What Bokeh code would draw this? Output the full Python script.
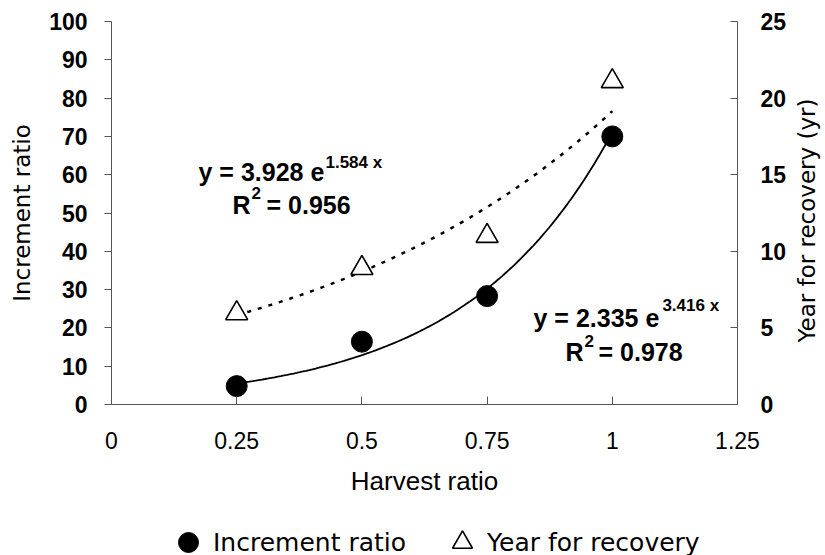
import math
import numpy as np
from bokeh.plotting import figure
from bokeh.layouts import column
from bokeh.models import Range1d, LinearAxis, FixedTicker, Label, Legend, LegendItem
from bokeh.embed import file_html
from bokeh.resources import INLINE

# ---- data ----
harvest_ratio = [0.25, 0.5, 0.75, 1.0]
increment_ratio = [4.8, 16.4, 28.3, 70.0]
year_for_recovery = [5.95, 8.9, 11.0, 21.1]

inc_fit_a, inc_fit_b = 2.335, 3.416   # y = 2.335 e^(3.416 x), R2 = 0.978
yr_fit_a, yr_fit_b = 3.928, 1.584     # y = 3.928 e^(1.584 x), R2 = 0.956

x_ticks = [0, 0.25, 0.5, 0.75, 1, 1.25]
x_tick_labels = ["0", "0.25", "0.5", "0.75", "1", "1.25"]
left_ticks = [0, 10, 20, 30, 40, 50, 60, 70, 80, 90, 100]
right_ticks = [0, 5, 10, 15, 20, 25]

fit_x = np.linspace(min(harvest_ratio), max(harvest_ratio), 120)
inc_fit = inc_fit_a * np.exp(inc_fit_b * fit_x)
yr_fit = yr_fit_a * np.exp(yr_fit_b * fit_x)

AXIS_COLOR = "#555555"
TICK_FONT = "Liberation Sans"
TITLE_FONT = "DejaVu Sans"

W = 825
H_MAIN = 505
H_LEG = 50

p = figure(width=W, height=H_MAIN, output_backend="svg", toolbar_location=None,
           x_range=Range1d(0, 1.25), y_range=Range1d(0, 100),
           min_border_left=111, min_border_right=88,
           min_border_top=21, min_border_bottom=101)
p.xgrid.visible = False
p.ygrid.visible = False
p.outline_line_color = None
p.background_fill_color = "white"
p.border_fill_color = "white"
p.extra_y_ranges = {"yr": Range1d(0, 25)}

# left axis
ya = p.yaxis[0]
ya.ticker = FixedTicker(ticks=left_ticks)
ya.axis_line_color = AXIS_COLOR
ya.major_tick_line_color = AXIS_COLOR
ya.major_tick_out = 7
ya.major_tick_in = 0
ya.minor_tick_out = 0
ya.minor_tick_in = 0
ya.major_label_text_font = TICK_FONT
ya.major_label_text_font_style = "bold"
ya.major_label_text_font_size = "23px"
ya.major_label_text_color = "black"
ya.major_label_standoff = 17
ya.axis_label = "Increment ratio"
ya.axis_label_text_font = TITLE_FONT
ya.axis_label_text_font_style = "normal"
ya.axis_label_text_font_size = "23px"
ya.axis_label_text_color = "black"
ya.axis_label_standoff = 11

# bottom axis
xa = p.xaxis[0]
xa.ticker = FixedTicker(ticks=x_ticks)
xa.major_label_overrides = dict(zip(x_ticks, x_tick_labels))
xa.axis_line_color = AXIS_COLOR
xa.major_tick_line_color = AXIS_COLOR
xa.major_tick_in = 8
xa.major_tick_out = 0
xa.minor_tick_out = 0
xa.minor_tick_in = 0
xa.major_label_text_font = TICK_FONT
xa.major_label_text_font_size = "23px"
xa.major_label_text_color = "black"
xa.major_label_standoff = 27
xa.axis_label = "Harvest ratio"
xa.axis_label_text_font = TICK_FONT
xa.axis_label_text_font_style = "normal"
xa.axis_label_text_font_size = "26px"
xa.axis_label_text_color = "black"
xa.axis_label_standoff = 14

# right axis
ra = LinearAxis(y_range_name="yr", ticker=FixedTicker(ticks=right_ticks))
ra.axis_line_color = AXIS_COLOR
ra.major_tick_line_color = AXIS_COLOR
ra.major_tick_in = 7
ra.major_tick_out = 0
ra.minor_tick_out = 0
ra.minor_tick_in = 0
ra.major_label_text_font = TICK_FONT
ra.major_label_text_font_style = "bold"
ra.major_label_text_font_size = "23px"
ra.major_label_text_color = "black"
ra.major_label_standoff = 23
p.add_layout(ra, "right")

# right-axis title, read bottom-to-top, placed in the right side panel
right_title = Label(x=17, y=184, x_units="screen", y_units="screen",
                    text="Year for recovery (yr)", angle=math.pi / 2,
                    text_align="center", text_baseline="middle",
                    text_font=TITLE_FONT, text_font_size="23px", text_color="black")
p.add_layout(right_title, "right")

# trend lines
p.line(fit_x, inc_fit, line_color="black", line_width=1.8)
p.line(fit_x, yr_fit, y_range_name="yr", line_color="black", line_width=2.5, line_dash="4 7")

# points
CIRCLE_STYLE = dict(marker="circle", size=21, fill_color="black", line_color="black")
TRI_STYLE = dict(marker="triangle", size=22, fill_color="white", line_color="black", line_width=1.6)
p.scatter(harvest_ratio, increment_ratio, **CIRCLE_STYLE)
p.scatter(harvest_ratio, year_for_recovery, y_range_name="yr", **TRI_STYLE)

# equations
def eq_label(x, y, text, size="25px"):
    p.add_layout(Label(x=x, y=y, text=text, text_align="left", text_baseline="middle",
                       text_font=TICK_FONT, text_font_style="bold", text_font_size=size,
                       text_color="black"))

eq_label(0.1737, 60.6, "y = 3.928 e")
eq_label(0.4273, 63.2, "1.584 x", "17px")
eq_label(0.2416, 52.0, "R")
eq_label(0.2796, 55.2, "2", "17px")
eq_label(0.3095, 52.0, "= 0.956")

eq_label(0.8427, 22.7, "y = 2.335 e")
eq_label(1.1000, 25.85, "3.416 x", "17px")
eq_label(0.9065, 13.6, "R")
eq_label(0.9445, 16.6, "2", "17px")
eq_label(0.9725, 13.6, "= 0.978")

# legend (separate strip below the chart; its frame is aligned with the chart's frame)
pl = figure(width=W, height=H_LEG, output_backend="svg", toolbar_location=None,
            x_range=Range1d(0, 1), y_range=Range1d(0, 1),
            x_axis_location=None, y_axis_location=None, min_border=0)
pl.xgrid.visible = False
pl.ygrid.visible = False
pl.outline_line_color = None
pl.border_fill_color = "white"
# same series drawn off-frame (all y values lie above this strip's 0..1 range), used only as legend keys
leg_inc = pl.scatter(harvest_ratio, increment_ratio, **CIRCLE_STYLE)
leg_yr = pl.scatter(harvest_ratio, year_for_recovery, **TRI_STYLE)
legend = Legend(items=[LegendItem(label="Increment ratio", renderers=[leg_inc], index=0),
                       LegendItem(label="Year for recovery", renderers=[leg_yr], index=0)],
                orientation="horizontal", location=(52, -12),
                glyph_width=50, glyph_height=50, label_standoff=0, spacing=31,
                padding=0, margin=0, border_line_color=None, background_fill_alpha=0,
                label_text_font=TITLE_FONT, label_text_font_size="25px",
                label_text_color="black")
pl.add_layout(legend)

open("out.html", "w").write(file_html(column(p, pl), INLINE))
